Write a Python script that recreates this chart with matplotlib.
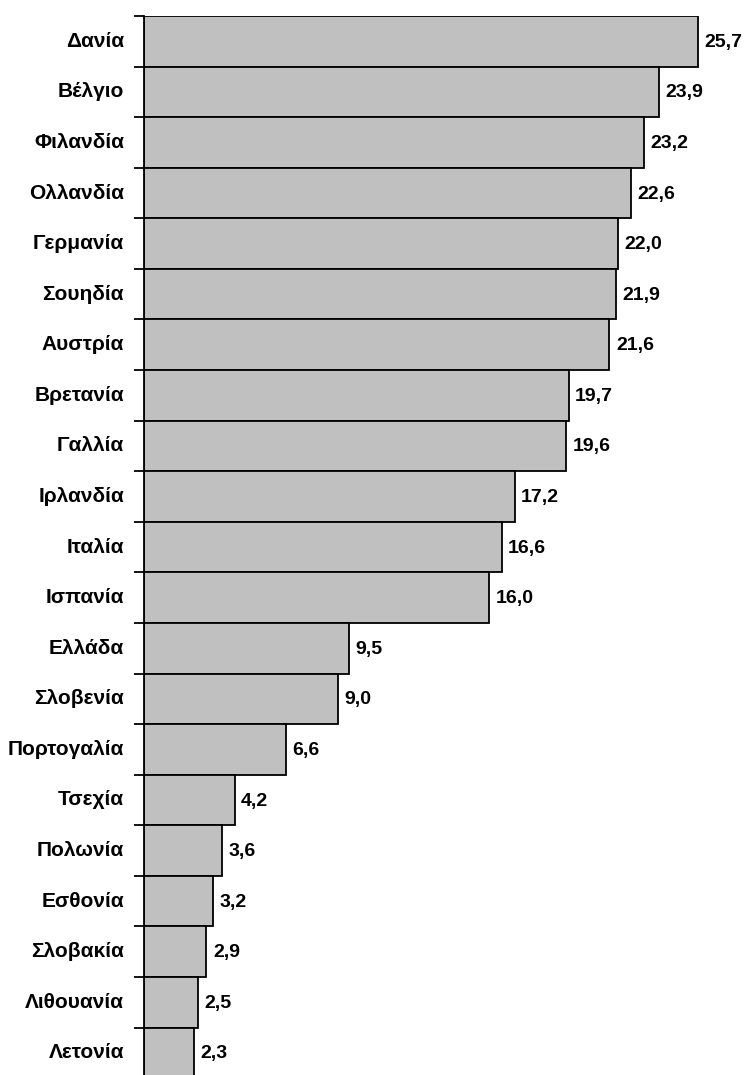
import matplotlib.pyplot as plt

countries = ['Δανία', 'Βέλγιο', 'Φιλανδία', 'Ολλανδία', 'Γερμανία', 'Σουηδία', 'Αυστρία',
             'Βρετανία', 'Γαλλία', 'Ιρλανδία', 'Ιταλία', 'Ισπανία', 'Ελλάδα', 'Σλοβενία',
             'Πορτογαλία', 'Τσεχία', 'Πολωνία', 'Εσθονία', 'Σλοβακία', 'Λιθουανία', 'Λετονία']
values = [25.7, 23.9, 23.2, 22.6, 22.0, 21.9, 21.6, 19.7, 19.6, 17.2, 16.6, 16.0,
          9.5, 9.0, 6.6, 4.2, 3.6, 3.2, 2.9, 2.5, 2.3]

plt.rcParams['font.family'] = ['Liberation Sans', 'DejaVu Sans']

W, H = 744, 1075
fig = plt.figure(figsize=(W / 100, H / 100), dpi=100)

slot = 50.58
top_px = 16
n = len(countries)
ax_h = slot * n
left_px = 144
ax = fig.add_axes([left_px / W, (H - top_px - ax_h) / H, (W - left_px) / W, ax_h / H])

pos = list(range(n))
ax.barh(pos, values, height=1.0, color='#c0c0c0', edgecolor='black', linewidth=1.3)

ax.set_ylim(n - 0.5, -0.5)
ax.set_xlim(0, (W - left_px) / 21.55)

for y, v in zip(pos, values):
    ax.text(v + 0.3, y + 0.02, f'{v:.1f}'.replace('.', ','), va='center', ha='left',
            fontsize=14, fontweight='bold')
    ax.text(-0.93, y, countries[y], va='center', ha='right', fontsize=15, fontweight='bold')

ax.set_yticks([i - 0.5 for i in range(n + 1)])
ax.set_yticklabels([])
ax.tick_params(axis='y', length=7, width=1.3, direction='out')
ax.set_xticks([])
for s in ['top', 'right', 'bottom']:
    ax.spines[s].set_visible(False)
ax.spines['left'].set_linewidth(1.3)

fig.savefig('out.png', dpi=100)
